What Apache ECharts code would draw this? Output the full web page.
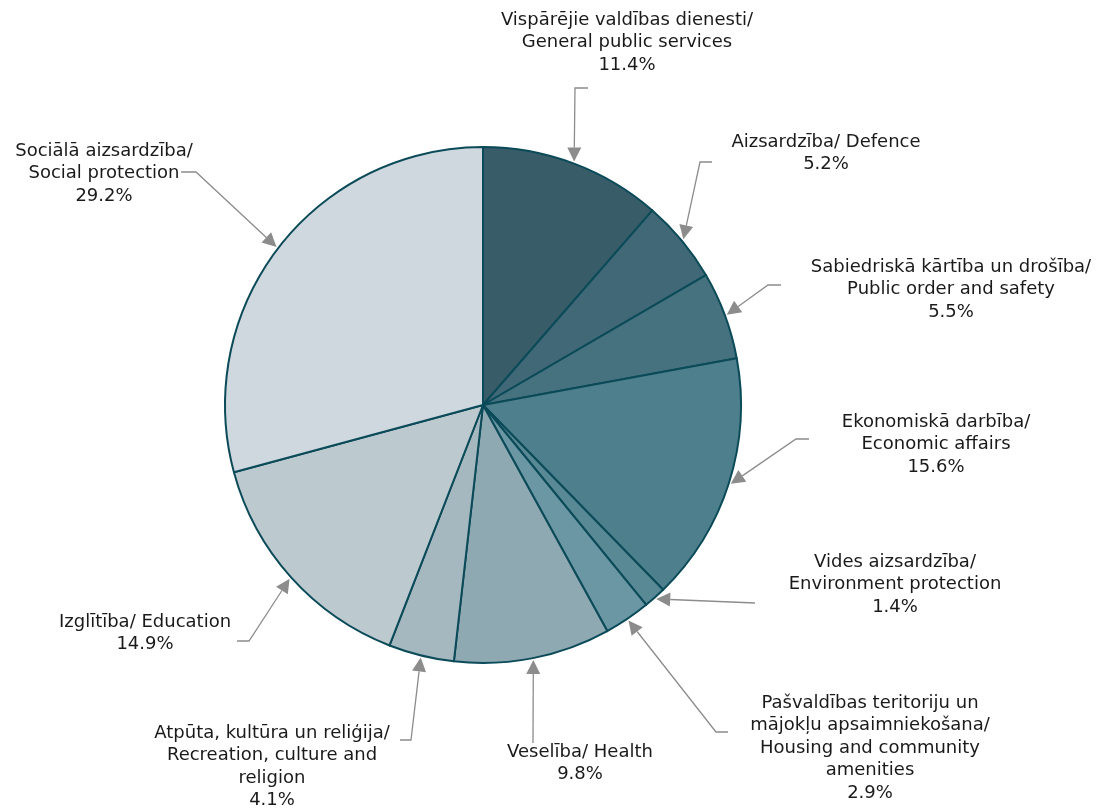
<!DOCTYPE html>
<html>
<head>
<meta charset="utf-8">
<script src="https://cdn.jsdelivr.net/npm/echarts@6/dist/echarts.min.js"></script>
<style>
  html, body { margin: 0; padding: 0; background: #fff; }
  #chart { width: 1098px; height: 809px; }
</style>
</head>
<body>
<div id="chart"></div>
<script>
  // kategorijas un vērtības (%)
  const names = [
    'Vispārējie valdības dienesti/\nGeneral public services',
    'Aizsardzība/ Defence',
    'Sabiedriskā kārtība un drošība/\nPublic order and safety',
    'Ekonomiskā darbība/\nEconomic affairs',
    'Vides aizsardzība/\nEnvironment protection',
    'Pašvaldības teritoriju un\nmājokļu apsaimniekošana/\nHousing and community\namenities',
    'Veselība/ Health',
    'Atpūta, kultūra un reliģija/\nRecreation, culture and\nreligion',
    'Izglītība/ Education',
    'Sociālā aizsardzība/\nSocial protection'
  ];
  const values = [11.4, 5.2, 5.5, 15.6, 1.4, 2.9, 9.8, 4.1, 14.9, 29.2];
  const colors = ['#385d69', '#416876', '#46727f', '#4e7f8c', '#598995',
                  '#6a97a3', '#8fa9b2', '#a5b8bf', '#bcc9cf', '#cfd8de'];

  // label layout: text block centre/top, elbow and end of the leader line
  const labelPos = [
    [627, 9], [826, 131], [951, 256], [936, 411], [895, 551],
    [870, 692], [580, 741], [272, 722], [145, 611], [104, 140]
  ];
  const elbows = [
    [575, 88], [700, 162], [768, 285], [796, 439], [755, 603],
    [716, 732], [533, 743], [411, 740], [249, 641], [196, 172]
  ];
  const lineEnds = [
    [588, 88], [712, 162], [781, 285], [809, 439], [755, 603],
    [728, 732], [533, 743], [400, 740], [237, 641], [181, 172]
  ];

  const CX = 483, CY = 405, R = 258;
  const total = values.reduce((a, b) => a + b, 0);

  // arrow tips on the slice edge (mid angle of every slice)
  let acc = 0;
  const arrows = values.map((v, i) => {
    const mid = (acc + v / 2) / total * Math.PI * 2;
    acc += v;
    const tip = [CX + (R + 2) * Math.sin(mid), CY - (R + 2) * Math.cos(mid)];
    const e = elbows[i];
    let dx = tip[0] - e[0], dy = tip[1] - e[1];
    const len = Math.sqrt(dx * dx + dy * dy);
    dx /= len; dy /= len;
    const L = 14, W = 7;
    const base = [tip[0] - dx * L, tip[1] - dy * L];
    return {
      base: base,
      poly: [tip, [base[0] - dy * W, base[1] + dx * W], [base[0] + dy * W, base[1] - dx * W]]
    };
  });

  const chart = echarts.init(document.getElementById('chart'));
  const option = {
    animation: false,
    series: [{
      type: 'pie',
      center: [CX, CY],
      radius: R,
      startAngle: 90,
      clockwise: true,
      avoidLabelOverlap: false,
      emphasis: { disabled: true },
      itemStyle: { borderColor: '#0b4a58', borderWidth: 2 },
      label: {
        show: true,
        position: 'outside',
        fontFamily: 'DejaVu Sans',
        fontSize: 18,
        lineHeight: 22.5,
        color: '#1a1a1a',
        align: 'center',
        formatter: (p) => p.name + '\n' + p.value.toFixed(1) + '%'
      },
      labelLine: {
        show: true,
        lineStyle: { color: '#8c8c8c', width: 1.3 }
      },
      labelLayout: (p) => {
        const i = p.dataIndex;
        return {
          x: labelPos[i][0],
          y: labelPos[i][1],
          align: 'center',
          verticalAlign: 'top',
          labelLinePoints: [arrows[i].base, elbows[i], lineEnds[i]]
        };
      },
      data: names.map((n, i) => ({ name: n, value: values[i], itemStyle: { color: colors[i] } }))
    }],
    graphic: arrows.map((a) => ({
      type: 'polygon',
      z: 100,
      shape: { points: a.poly },
      style: { fill: '#8c8c8c' }
    }))
  };
  chart.setOption(option);
</script>
</body>
</html>
